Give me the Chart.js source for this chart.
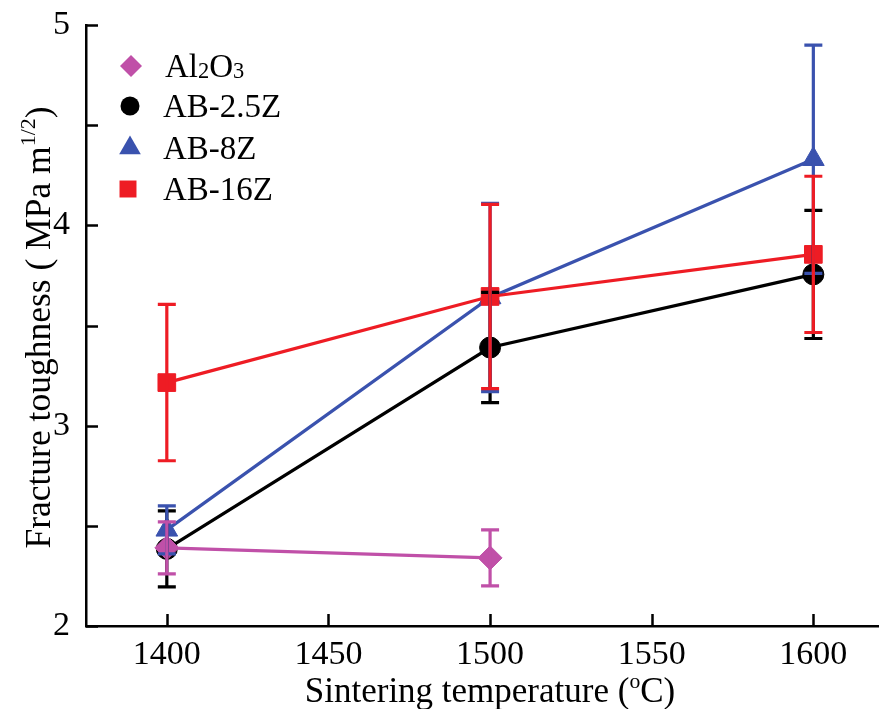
<!DOCTYPE html>
<html>
<head>
<meta charset="utf-8">
<script src="https://cdn.jsdelivr.net/npm/chart.js@4.4.1/dist/chart.umd.min.js"></script>
<style>
html,body{margin:0;padding:0;background:#fff;}
canvas{display:block;}
</style>
</head>
<body>
<canvas id="c" width="881" height="709"></canvas>
<script>
// ---- data ----
const temps = [1400, 1500, 1600];
const seriesNames = ['Al2O3', 'AB-2.5Z', 'AB-8Z', 'AB-16Z'];
const al2o3 = [2.39, 2.34];
const al2o3Err = [0.13, 0.14];
const ab25z = [2.385, 3.39, 3.755];
const ab25zErr = [0.19, 0.275, 0.32];
const ab8z = [2.48, 3.64, 4.33];
const ab8zErr = [0.12, 0.47, 0.57];
const ab16z = [3.215, 3.645, 3.855];
const ab16zErr = [0.39, 0.46, 0.39];
const xTicks = [1400, 1450, 1500, 1550, 1600];
const yTicks = [2, 2.5, 3, 3.5, 4, 4.5, 5];

const COLORS = ['#C050A8', '#000000', '#3A52AE', '#EE1C24'];
const STYLES = ['rectRot', 'circle', 'triangle', 'rect'];
const RADII = [12, 10.5, 12.5, 12.5];
const FONT = '"Liberation Serif", "Times New Roman", serif';

function pts(vals) { return vals.map((v, i) => ({ x: temps[i], y: v })); }

const values = [al2o3, ab25z, ab8z, ab16z];
const errors = [al2o3Err, ab25zErr, ab8zErr, ab16zErr];
const orders = [0, 3, 2, 1];

const datasets = values.map((vals, i) => ({
  label: seriesNames[i],
  data: pts(vals),
  errors: errors[i],
  borderColor: COLORS[i],
  backgroundColor: COLORS[i],
  borderWidth: 3.2,
  pointStyle: STYLES[i],
  pointRadius: RADII[i],
  pointBorderWidth: 1,
  pointHoverRadius: RADII[i],
  tension: 0,
  order: orders[i]
}));

// error bars drawn through the scales
const errorBarPlugin = {
  id: 'errorBars',
  afterDatasetsDraw(chart) {
    const ctx = chart.ctx, xs = chart.scales.x, ys = chart.scales.y;
    [1, 2, 3, 0].forEach(i => {
      const ds = chart.data.datasets[i];
      ctx.save();
      ctx.strokeStyle = ds.borderColor;
      ctx.lineWidth = 3.2;
      ds.data.forEach((p, j) => {
        const e = ds.errors[j];
        const px = xs.getPixelForValue(p.x);
        const top = ys.getPixelForValue(p.y + e);
        const bot = ys.getPixelForValue(p.y - e);
        ctx.beginPath();
        ctx.moveTo(px, top); ctx.lineTo(px, bot);
        ctx.moveTo(px - 9, top); ctx.lineTo(px + 9, top);
        ctx.moveTo(px - 9, bot); ctx.lineTo(px + 9, bot);
        ctx.stroke();
      });
      ctx.restore();
    });
  }
};

function drawMarker(ctx, style, x, y, r, color) {
  ctx.save();
  ctx.fillStyle = color;
  ctx.beginPath();
  if (style === 'circle') {
    ctx.arc(x, y, r, 0, Math.PI * 2);
  } else if (style === 'rect') {
    const s = r * Math.SQRT1_2;
    ctx.rect(x - s, y - s, 2 * s, 2 * s);
  } else if (style === 'rectRot') {
    ctx.moveTo(x, y - r); ctx.lineTo(x + r, y); ctx.lineTo(x, y + r); ctx.lineTo(x - r, y); ctx.closePath();
  } else if (style === 'triangle') {
    ctx.moveTo(x, y - r);
    ctx.lineTo(x + Math.sin(Math.PI / 3) * r, y + 0.5 * r);
    ctx.lineTo(x - Math.sin(Math.PI / 3) * r, y + 0.5 * r);
    ctx.closePath();
  }
  ctx.fill();
  ctx.restore();
}

// draws rich text segments: [text, sizeFactor, baselineShift]
function drawRich(ctx, segs, size, x, y, align) {
  let total = 0;
  segs.forEach(s => { ctx.font = (size * s[1]) + 'px ' + FONT; total += ctx.measureText(s[0]).width; });
  let cx = align === 'center' ? x - total / 2 : x;
  segs.forEach(s => {
    ctx.font = (size * s[1]) + 'px ' + FONT;
    ctx.fillText(s[0], cx, y + s[2]);
    cx += ctx.measureText(s[0]).width;
  });
}

const decorPlugin = {
  id: 'decor',
  afterDraw(chart) {
    const ctx = chart.ctx, xs = chart.scales.x, ys = chart.scales.y;
    const area = chart.chartArea;
    ctx.save();
    ctx.strokeStyle = '#000';
    ctx.lineWidth = 2.5;
    // inward ticks
    ctx.beginPath();
    xTicks.forEach(v => {
      const px = Math.round(xs.getPixelForValue(v)) + 0.5;
      ctx.moveTo(px, area.bottom); ctx.lineTo(px, area.bottom - 12);
    });
    yTicks.forEach(v => {
      const py = Math.round(ys.getPixelForValue(v)) + 0.5;
      ctx.moveTo(area.left, py); ctx.lineTo(area.left + 12, py);
    });
    ctx.stroke();

    ctx.fillStyle = '#000';
    ctx.textBaseline = 'alphabetic';
    // x title
    drawRich(ctx, [['Sintering temperature (', 1, 0], ['o', 0.62, -14], ['C)', 1, 0]], 35,
      (area.left + area.right) / 2 + 8, 702, 'center');
    // y title
    ctx.save();
    ctx.translate(50, (area.top + area.bottom) / 2 + 2);
    ctx.rotate(-Math.PI / 2);
    drawRich(ctx, [['Fracture toughness ( MPa m', 1, 0], ['1/2', 0.62, -15], [')', 1, 0]], 35.5, 0, 0, 'center');
    ctx.restore();

    // legend
    const ly = [66, 106, 148, 189];
    const lx = [131, 130, 130, 128];
    const lr = [11, 9.5, 12.5, 12];
    for (let i = 0; i < seriesNames.length; i++) {
      drawMarker(ctx, STYLES[i], lx[i], ly[i], lr[i], COLORS[i]);
      ctx.fillStyle = '#000';
      const by = ly[i] + 11;
      if (i === 0) {
        drawRich(ctx, [['Al', 1, 0], ['2', 0.68, 1], ['O', 1, 0], ['3', 0.68, 1]], 33, 165, by, 'left');
      } else {
        drawRich(ctx, [[seriesNames[i], 1, 0]], 33, 163, by, 'left');
      }
    }
    ctx.restore();
  }
};

new Chart(document.getElementById('c'), {
  type: 'line',
  data: { datasets },
  options: {
    responsive: false,
    devicePixelRatio: 1,
    animation: false,
    layout: { autoPadding: false, padding: { top: 25, right: 3, left: 0, bottom: 0 } },
    plugins: { legend: { display: false }, tooltip: { enabled: false } },
    scales: {
      x: {
        type: 'linear',
        min: 1375, max: 1620,
        afterBuildTicks: s => { s.ticks = xTicks.map(v => ({ value: v })); },
        afterFit: s => { s.height = 83; s.paddingLeft = 0; s.paddingRight = 0; },
        grid: { display: false, drawTicks: false },
        border: { display: true, color: '#000', width: 2.5 },
        ticks: { color: '#000', font: { family: FONT, size: 34 }, padding: 9, maxRotation: 0, autoSkip: false,
          callback: v => String(v) }
      },
      y: {
        min: 2, max: 5,
        afterBuildTicks: s => { s.ticks = yTicks.map(v => ({ value: v })); },
        afterFit: s => { s.width = 86; s.paddingTop = 0; s.paddingBottom = 0; },
        grid: { display: false, drawTicks: false },
        border: { display: true, color: '#000', width: 2.5 },
        ticks: {
          color: '#000', font: { family: FONT, size: 34 }, padding: 16, autoSkip: false,
          callback: v => Number.isInteger(v) ? String(v) : ''
        }
      }
    }
  },
  plugins: [errorBarPlugin, decorPlugin]
});
</script>
</body>
</html>
